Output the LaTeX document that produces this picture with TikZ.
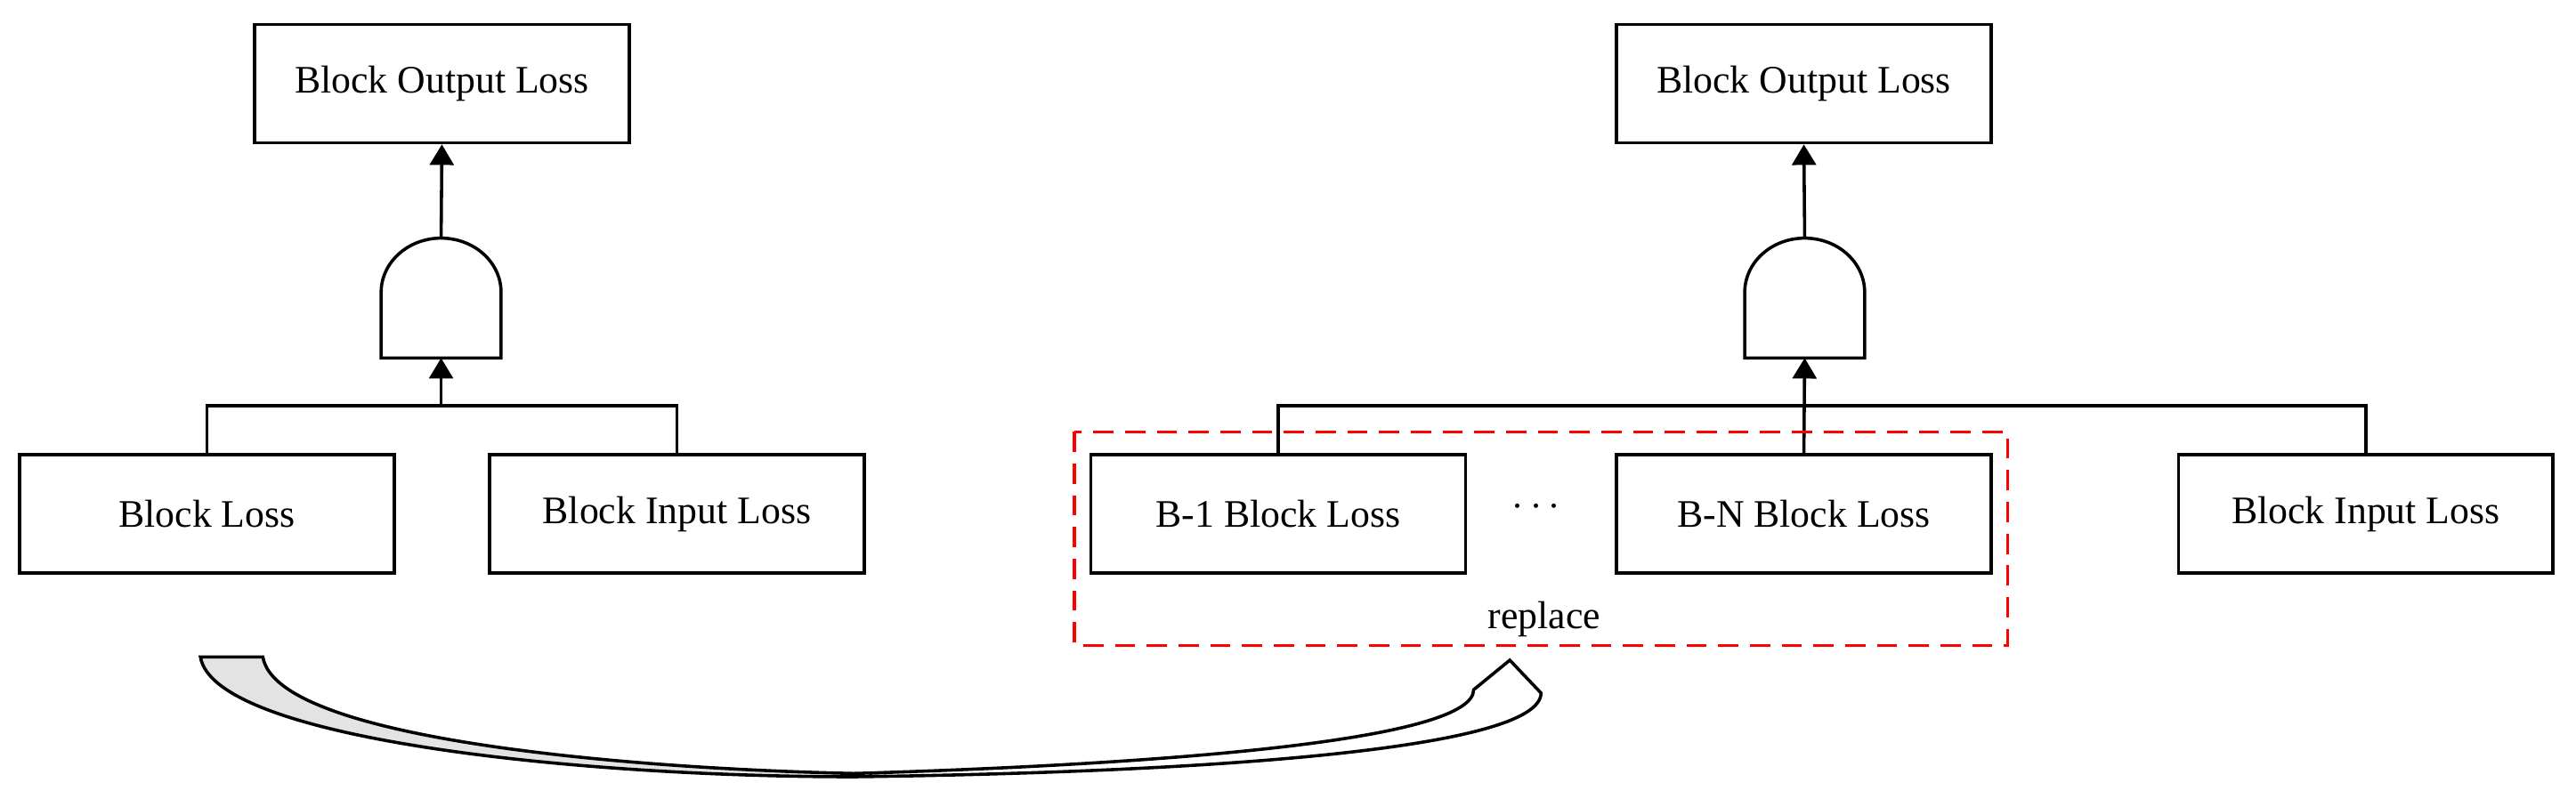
\documentclass[tikz,border=0pt]{standalone}
\usepackage{fontspec}
\setmainfont{Liberation Serif}
\usetikzlibrary{arrows.meta}
\begin{document}
\begin{tikzpicture}[x=0.02cm,y=-0.02cm,
  box/.style={draw,line width=1.1pt,minimum width=4.56cm,minimum height=1.44cm,inner sep=0pt,font=\fontsize{13.5}{16}\selectfont},
  ln/.style={line width=1.1pt},
  arr/.style={ln,-{Triangle[length=0.25cm,width=0.29cm]}},
  gate/.style={draw,line width=1.1pt,fill=white}]
\useasboundingbox (0,0) rectangle (1568,491);
% left tree
\node[box] (lout) at (269,51) {Block Output Loss};
\node[box] (lbl) at (126,313) {Block Loss};
\node[box] (lbi) at (412,313) {Block Input Loss};
\draw[gate] (232,218) -- (232,178) arc[start angle=180,end angle=0,x radius=36.5,y radius=-33] -- (305,218) -- cycle;
\coordinate (lgt) at (268.5,145);
\coordinate (lgb) at (268.5,218);
\coordinate (lbar) at (268.5,247);
\draw[arr] (lgt) -- (lout.south);
\draw[arr] (lbar) -- (lgb);
\draw[ln] (lbl.north) |- (lbar) -| (lbi.north);
% right tree
\node[box] (rout) at (1098,51) {Block Output Loss};
\node[box] (rb1) at (778,313) {B-1 Block Loss};
\node[box] (rbn) at (1098,313) {B-N Block Loss};
\node[box] (rbi) at (1440,313) {Block Input Loss};
\node[font=\fontsize{13.5}{16}\selectfont] (dots) at (935,309) {$\cdots$};
\draw[gate] (1062,218) -- (1062,178) arc[start angle=180,end angle=0,x radius=36.5,y radius=-33] -- (1135,218) -- cycle;
\coordinate (rgt) at (1098.5,145);
\coordinate (rgb) at (1098.5,218);
\coordinate (rbar) at (1098.5,247);
\draw[arr] (rgt) -- (rout.south);
\draw[arr] (rbn.north) -- (rgb);
\draw[ln] (rb1.north) |- (rbar) -| (rbi.north);
\draw[red,line width=1.1pt,dash pattern=on 7pt off 4pt] (654,263) rectangle (1222,393);
\node[font=\fontsize{13.5}{16}\selectfont] (rep) at (940,377) {replace};
% curved arrow
\draw[ln,fill=white] (520,473) .. controls (750,470) and (938,455) .. (938,422)
  -- (919,402) -- (897,420) .. controls (897,450) and (720,465) .. (520,471);
\draw[ln,fill=black!11] (122,400) .. controls (130,450) and (350,473) .. (520,473)
  -- (520,471) .. controls (380,468) and (168,450) .. (160,400) -- cycle;
\end{tikzpicture}
\end{document}
